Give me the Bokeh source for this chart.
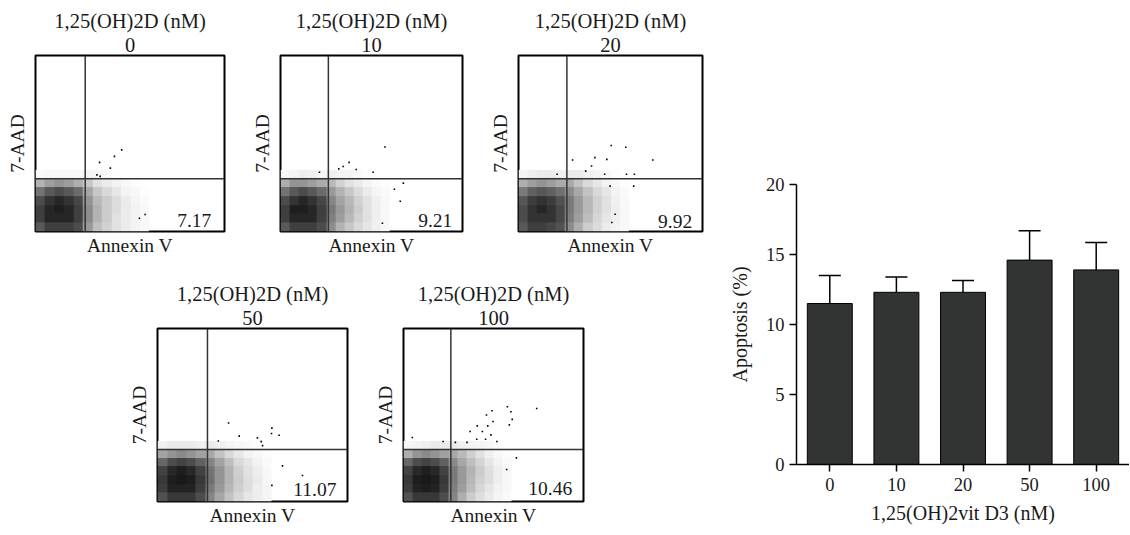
import numpy as np
from bokeh.plotting import figure
from bokeh.models import (Range1d, FactorRange, FixedTicker, Span, Title, ColumnDataSource,
                          Whisker, TeeHead, LinearColorMapper)
from bokeh.palettes import Greys256
from bokeh.layouts import row, column
from bokeh.core.properties import value
from bokeh.embed import file_html
from bokeh.resources import INLINE

# ---------------- data ----------------
doses = ["0", "10", "20", "50", "100"]
apoptosis = [11.5, 12.3, 12.3, 14.6, 13.9]
apoptosis_upper = [13.5, 13.4, 13.15, 16.7, 15.85]
quadrant_pct = ["7.17", "9.21", "9.92", "11.07", "10.46"]

# estimated event density (rows: 7-AAD 0-35 in steps of 5; cols: Annexin V 0-60 in steps of 5)
dens_0 = [
    [0.65, 0.75, 0.75, 0.75, 0.70, 0.40, 0.25, 0.18, 0.12, 0.08, 0.05, 0.03],
    [0.75, 0.85, 0.85, 0.85, 0.75, 0.45, 0.30, 0.20, 0.12, 0.08, 0.05, 0.03],
    [0.75, 0.85, 0.88, 0.85, 0.75, 0.45, 0.30, 0.20, 0.14, 0.08, 0.05, 0.03],
    [0.70, 0.80, 0.85, 0.80, 0.72, 0.42, 0.28, 0.20, 0.14, 0.08, 0.04, 0.02],
    [0.55, 0.65, 0.70, 0.65, 0.58, 0.35, 0.22, 0.15, 0.10, 0.05, 0.03, 0.01],
    [0.30, 0.38, 0.42, 0.38, 0.32, 0.22, 0.12, 0.08, 0.05, 0.03, 0.01, 0.00],
    [0.02, 0.03, 0.03, 0.03, 0.03, 0.05, 0.04, 0.03, 0.01, 0.00, 0.00, 0.00],
]
dens_10 = [
    [0.65, 0.75, 0.75, 0.75, 0.70, 0.45, 0.30, 0.22, 0.15, 0.10, 0.06, 0.03],
    [0.75, 0.85, 0.85, 0.85, 0.75, 0.50, 0.38, 0.28, 0.18, 0.12, 0.06, 0.03],
    [0.75, 0.88, 0.88, 0.85, 0.75, 0.52, 0.40, 0.30, 0.20, 0.12, 0.07, 0.03],
    [0.70, 0.80, 0.85, 0.80, 0.72, 0.48, 0.36, 0.28, 0.18, 0.12, 0.06, 0.03],
    [0.55, 0.65, 0.70, 0.65, 0.58, 0.40, 0.30, 0.22, 0.14, 0.08, 0.04, 0.02],
    [0.32, 0.42, 0.42, 0.38, 0.33, 0.28, 0.18, 0.12, 0.08, 0.04, 0.02, 0.01],
    [0.03, 0.05, 0.07, 0.06, 0.04, 0.06, 0.05, 0.04, 0.02, 0.01, 0.00, 0.00],
]
dens_20 = [
    [0.65, 0.75, 0.75, 0.72, 0.68, 0.45, 0.32, 0.20, 0.14, 0.08, 0.05, 0.03],
    [0.70, 0.80, 0.80, 0.80, 0.72, 0.50, 0.38, 0.26, 0.16, 0.10, 0.06, 0.03],
    [0.70, 0.80, 0.85, 0.80, 0.72, 0.52, 0.40, 0.28, 0.18, 0.12, 0.07, 0.03],
    [0.66, 0.76, 0.80, 0.76, 0.68, 0.52, 0.40, 0.28, 0.18, 0.12, 0.06, 0.03],
    [0.52, 0.62, 0.66, 0.62, 0.56, 0.45, 0.34, 0.24, 0.15, 0.10, 0.05, 0.02],
    [0.32, 0.38, 0.42, 0.38, 0.33, 0.34, 0.24, 0.15, 0.10, 0.05, 0.03, 0.01],
    [0.04, 0.06, 0.08, 0.08, 0.06, 0.08, 0.08, 0.06, 0.04, 0.03, 0.01, 0.00],
]
dens_50 = [
    [0.68, 0.78, 0.78, 0.78, 0.70, 0.48, 0.35, 0.24, 0.16, 0.10, 0.07, 0.04],
    [0.76, 0.86, 0.86, 0.86, 0.76, 0.52, 0.40, 0.28, 0.19, 0.13, 0.07, 0.04],
    [0.78, 0.88, 0.90, 0.88, 0.78, 0.56, 0.42, 0.30, 0.20, 0.13, 0.08, 0.03],
    [0.74, 0.84, 0.88, 0.84, 0.74, 0.55, 0.42, 0.30, 0.19, 0.12, 0.07, 0.03],
    [0.60, 0.70, 0.74, 0.70, 0.62, 0.48, 0.36, 0.25, 0.15, 0.10, 0.05, 0.02],
    [0.36, 0.42, 0.46, 0.42, 0.37, 0.34, 0.24, 0.15, 0.09, 0.05, 0.03, 0.01],
    [0.06, 0.08, 0.08, 0.08, 0.06, 0.08, 0.06, 0.04, 0.03, 0.02, 0.01, 0.00],
]
dens_100 = [
    [0.68, 0.78, 0.78, 0.78, 0.70, 0.48, 0.32, 0.20, 0.13, 0.08, 0.04, 0.02],
    [0.76, 0.86, 0.88, 0.86, 0.76, 0.50, 0.38, 0.26, 0.16, 0.10, 0.05, 0.03],
    [0.78, 0.88, 0.90, 0.88, 0.78, 0.52, 0.40, 0.28, 0.18, 0.13, 0.07, 0.03],
    [0.74, 0.84, 0.88, 0.84, 0.74, 0.52, 0.40, 0.30, 0.20, 0.13, 0.07, 0.03],
    [0.60, 0.70, 0.74, 0.70, 0.62, 0.46, 0.35, 0.25, 0.17, 0.10, 0.05, 0.02],
    [0.32, 0.42, 0.46, 0.42, 0.37, 0.34, 0.27, 0.19, 0.12, 0.06, 0.03, 0.01],
    [0.04, 0.05, 0.06, 0.08, 0.08, 0.08, 0.06, 0.05, 0.04, 0.03, 0.01, 0.00],
]

# isolated events (Annexin V, 7-AAD on a 0-100 box scale)
sparse_x_0 = [45.6, 41.8, 33.9, 39.6, 32.5, 34.2, 58.0, 55.0]
sparse_y_0 = [46.4, 42.7, 39.3, 36.0, 32.2, 31.3, 9.7, 7.5]
sparse_x_10 = [57.4, 37.7, 34.4, 32.0, 41.6, 21.4, 50.9, 67.5, 62.6, 65.8, 56.0]
sparse_y_10 = [48.0, 39.3, 36.9, 35.6, 35.2, 33.7, 33.7, 27.5, 24.0, 17.2, 4.7]
sparse_x_20 = [50.4, 58.3, 73.0, 41.5, 48.0, 29.4, 39.7, 36.5, 46.8, 58.7, 63.0, 21.0, 49.8, 62.6, 52.5, 50.7]
sparse_y_20 = [48.9, 47.9, 40.6, 42.0, 41.0, 40.6, 37.2, 34.3, 32.5, 32.5, 32.5, 32.5, 25.8, 25.8, 9.8, 5.1]
sparse_x_50 = [37.4, 60.2, 60.0, 64.0, 43.0, 52.6, 32.0, 54.6, 55.3, 65.8, 76.3, 60.2]
sparse_y_50 = [45.4, 42.4, 39.3, 38.3, 37.8, 36.8, 35.0, 34.6, 32.3, 20.6, 15.0, 9.3]
sparse_x_100 = [57.7, 74.0, 59.7, 49.2, 46.1, 60.4, 49.7, 58.8, 41.0, 46.8, 37.0, 43.8, 48.6,
                40.7, 45.6, 51.9, 35.3, 28.8, 4.9, 22.0, 62.7, 57.3]
sparse_y_100 = [54.8, 53.8, 51.9, 52.5, 50.0, 47.5, 46.2, 44.3, 43.7, 43.7, 40.5, 40.5, 38.5,
                36.0, 36.0, 34.7, 34.2, 34.2, 37.0, 34.7, 25.2, 18.5]

gate_x = 26.3   # Annexin V gate
gate_y = 30.0   # 7-AAD gate

# ---------------- styling ----------------
FONT = "Liberation Serif"
TXT = "#1a1a1a"
GREY_MAP = list(reversed(Greys256))  # 0 -> white, 1 -> black


def panel(dose, dens, sx, sy, pct, fw, fh, left, right, top, bottom, pct_x, pct_y):
    p = figure(width=left + fw + right, height=top + fh + bottom,
               x_range=Range1d(0, 100), y_range=Range1d(0, 100),
               output_backend="svg", toolbar_location=None,
               min_border_left=left, min_border_right=right,
               min_border_top=top, min_border_bottom=bottom)
    p.grid.visible = False
    p.outline_line_color = "black"
    p.outline_line_width = 2
    p.background_fill_color = "white"
    p.border_fill_color = "white"
    for ax in (p.xaxis[0], p.yaxis[0]):
        ax.ticker = FixedTicker(ticks=[])
        ax.major_tick_out = 0
        ax.major_tick_in = 0
        ax.minor_tick_out = 0
        ax.minor_tick_in = 0
        ax.axis_line_color = None
        ax.major_label_text_font_size = "0px"
        ax.axis_label_text_font = FONT
        ax.axis_label_text_font_size = "19.5px"
        ax.axis_label_text_font_style = "normal"
        ax.axis_label_text_color = TXT
    p.xaxis.axis_label_standoff = 3
    p.yaxis.axis_label_standoff = 8
    p.xaxis.axis_label = "Annexin V"
    p.yaxis.axis_label = "7-AAD"

    d = np.array(dens, dtype=float)
    nr, nc = d.shape
    cmap = LinearColorMapper(palette=GREY_MAP, low=0.0, high=1.0)
    p.image(image=[d], x=0, y=0, dw=nc * 5, dh=nr * 5, color_mapper=cmap)
    p.scatter(sx, sy, size=1.6, marker="square", color="black", line_color=None)

    p.add_layout(Span(location=gate_x, dimension="height", line_color="#333333", line_width=1.5))
    p.add_layout(Span(location=gate_y, dimension="width", line_color="#333333", line_width=1.5))

    p.text(x=[pct_x], y=[pct_y], text=[pct], text_align="right", text_baseline="alphabetic",
           text_font=value(FONT), text_font_size="19.5px", text_color=TXT)

    p.title.text = "1,25(OH)2D (nM)"
    p.title.text_font = FONT
    p.title.text_font_size = "20.5px"
    p.title.text_font_style = "normal"
    p.title.text_color = TXT
    p.title.align = "center"
    p.title.standoff = 0
    t2 = Title(text=dose, text_font=FONT, text_font_size="20.5px",
               text_font_style="normal", text_color=TXT, align="center", standoff=8)
    p.add_layout(t2, "above")
    return p


f1 = panel(doses[0], dens_0, sparse_x_0, sparse_y_0, quadrant_pct[0], 189, 179, 35, 24, 53, 30, 93.0, 6.2)
f2 = panel(doses[1], dens_10, sparse_x_10, sparse_y_10, quadrant_pct[1], 189, 179, 25, 24, 53, 30, 94.4, 6.2)
f3 = panel(doses[2], dens_20, sparse_x_20, sparse_y_20, quadrant_pct[2], 188, 176, 28, 8, 55, 31, 94.4, 5.9)
f4 = panel(doses[3], dens_50, sparse_x_50, sparse_y_50, quadrant_pct[3], 190, 178, 157, 24, 61, 33, 94.2, 6.9)
f5 = panel(doses[4], dens_100, sparse_x_100, sparse_y_100, quadrant_pct[4], 184, 175, 28, 127, 66, 31, 93.7, 7.5)

# ---------------- bar chart ----------------
bar = figure(width=419, height=534, x_range=FactorRange(factors=doses, range_padding=0),
             y_range=Range1d(0, 20), output_backend="svg", toolbar_location=None,
             min_border_left=86, min_border_right=0, min_border_top=184, min_border_bottom=70)
bar.grid.visible = False
bar.outline_line_color = None
bar.background_fill_color = "white"
bar.border_fill_color = "white"
bsrc = ColumnDataSource(dict(x=doses, top=apoptosis, upper=apoptosis_upper))
bar.vbar(x="x", top="top", width=0.675, source=bsrc, fill_color="#323333",
         line_color="black", line_width=1)
wh = Whisker(base="x", lower="top", upper="upper", source=bsrc, lower_head=None,
             upper_head=TeeHead(size=22, line_width=1.5, line_color="black"),
             line_width=1.5, line_color="black", level="underlay")
bar.add_layout(wh)

bar.yaxis.ticker = FixedTicker(ticks=[0, 5, 10, 15, 20])
for ax in (bar.xaxis[0], bar.yaxis[0]):
    ax.major_tick_out = 7
    ax.major_tick_in = 0
    ax.minor_tick_out = 0
    ax.minor_tick_in = 0
    ax.axis_line_color = "black"
    ax.axis_line_width = 1.5
    ax.major_tick_line_color = "black"
    ax.major_tick_line_width = 1.5
    ax.major_label_text_font = FONT
    ax.major_label_text_font_size = "18.5px"
    ax.major_label_text_color = TXT
    ax.axis_label_text_font = FONT
    ax.axis_label_text_font_size = "20px"
    ax.axis_label_text_font_style = "normal"
    ax.axis_label_text_color = TXT
bar.yaxis.major_label_standoff = 5
bar.xaxis.major_label_standoff = 6
bar.yaxis.axis_label = "Apoptosis (%)"
bar.xaxis.axis_label = "1,25(OH)2vit D3 (nM)"
bar.yaxis.axis_label_standoff = 12
bar.xaxis.axis_label_standoff = 8

layout = row(column(row(f1, f2, f3), row(f4, f5)), bar)

with open("out.html", "w") as fh:
    fh.write(file_html(layout, INLINE))
